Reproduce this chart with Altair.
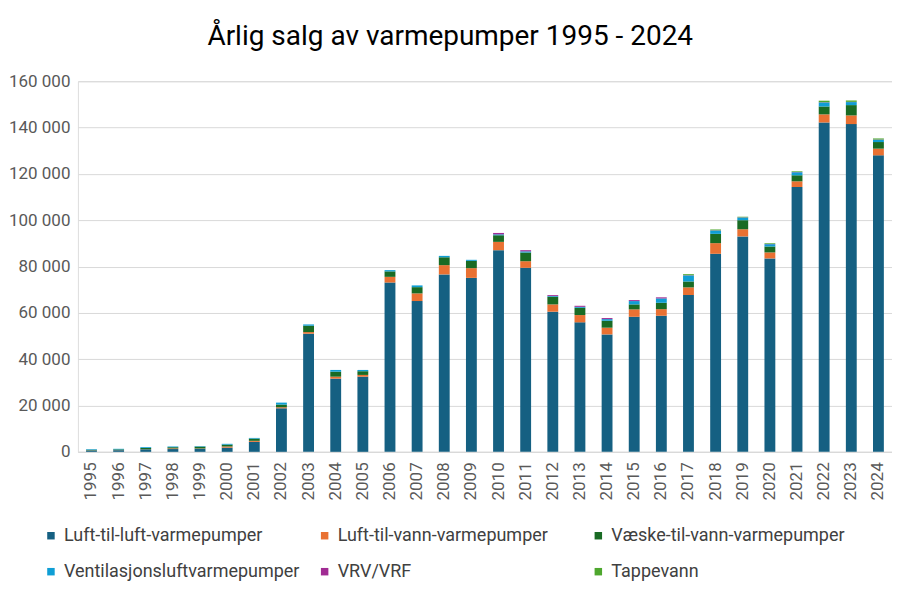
import altair as alt
import pandas as pd

years = [str(y) for y in range(1995, 2025)]

series_names = [
    "Luft-til-luft-varmepumper",
    "Luft-til-vann-varmepumper",
    "Væske-til-vann-varmepumper",
    "Ventilasjonsluftvarmepumper",
    "VRV/VRF",
    "Tappevann",
]
series_colors = ["#156082", "#E97132", "#196B24", "#0F9ED5", "#A02B93", "#4EA72E"]

luft_luft = [600, 700, 1100, 1200, 1300, 1800, 4300, 18800, 51000, 31600,
             32450, 73100, 65100, 76600, 75100, 87050, 79450, 60500, 55900, 50700,
             58300, 58750, 67700, 85500, 93000, 83500, 114350, 142200, 141500, 128000]
luft_vann = [50, 50, 50, 300, 150, 500, 450, 450, 700, 850,
             750, 2450, 3300, 4000, 4200, 3600, 2850, 3150, 3150, 2900,
             3200, 2850, 3300, 4600, 3100, 2600, 2450, 3500, 3750, 2900]
vaeske_vann = [250, 300, 500, 500, 800, 800, 950, 1150, 2750, 2150,
               1600, 2350, 2700, 3400, 3150, 2850, 3750, 3300, 3150, 3000,
               2150, 2750, 2550, 4000, 3900, 2550, 2600, 3400, 4450, 2850]
ventilasjon = [250, 250, 350, 300, 200, 350, 300, 850, 550, 750,
               550, 550, 750, 600, 450, 400, 500, 300, 400, 700,
               1430, 1880, 2600, 1450, 1150, 1000, 1300, 1750, 1300, 1000]
vrv_vrf = [0, 0, 0, 0, 0, 0, 0, 0, 0, 0,
           0, 0, 0, 0, 0, 600, 500, 400, 450, 450,
           420, 470, 100, 100, 100, 100, 100, 100, 100, 100]
tappevann = [0, 0, 0, 0, 0, 0, 0, 0, 0, 0,
             0, 0, 0, 0, 0, 0, 0, 0, 0, 0,
             0, 0, 450, 350, 250, 300, 300, 650, 600, 450]

y_ticks = [0, 20000, 40000, 60000, 80000, 100000, 120000, 140000, 160000]

all_series = [luft_luft, luft_vann, vaeske_vann, ventilasjon, vrv_vrf, tappevann]
rows = []
for si, (name, vals) in enumerate(zip(series_names, all_series)):
    for yr, v in zip(years, vals):
        rows.append({"År": yr, "Type": name, "Antall": v, "idx": si})
df = pd.DataFrame(rows)

FONT = "Roboto"

chart = (
    alt.Chart(df)
    .mark_bar()
    .encode(
        x=alt.X(
            "År:N",
            sort=years,
            scale=alt.Scale(paddingInner=0.6, paddingOuter=0.3),
            axis=alt.Axis(
                title=None,
                labelAngle=-90,
                labelFontSize=17,
                labelColor="#595959",
                labelFont=FONT,
                labelPadding=10,
                ticks=False,
                domainColor="#d9d9d9",
                domainWidth=1,
                grid=False,
            ),
        ),
        y=alt.Y(
            "Antall:Q",
            stack="zero",
            scale=alt.Scale(domain=[0, 160000], nice=False),
            axis=alt.Axis(
                title=None,
                values=y_ticks,
                labelExpr="replace(format(datum.value, ','), regexp(',', 'g'), ' ')",
                labelFontSize=17,
                labelColor="#595959",
                labelFont=FONT,
                labelPadding=8,
                ticks=False,
                domain=False,
                gridColor="#d9d9d9",
                gridWidth=1,
            ),
        ),
        color=alt.Color(
            "Type:N",
            scale=alt.Scale(domain=series_names, range=series_colors),
            legend=alt.Legend(
                title=None,
                orient="none",
                legendX=-36,
                legendY=446,
                direction="horizontal",
                columns=3,
                gridAlign="all",
                columnPadding=16,
                rowPadding=18,
                symbolType="square",
                symbolSize=56,
                symbolStrokeWidth=0,
                labelFontSize=18,
                labelFont=FONT,
                labelColor="#404040",
                labelLimit=400,
                labelOffset=4,
            ),
        ),
        order=alt.Order("idx:Q", sort="ascending"),
    )
    .properties(
        width=815,
        height=371,
        padding={"top": 15, "left": 0, "right": 0, "bottom": 3},
        title=alt.TitleParams(
            text="Årlig salg av varmepumper 1995 - 2024",
            fontSize=28,
            font=FONT,
            fontWeight="normal",
            color="#000000",
            anchor="middle",
            frame="bounds",
            offset=21,
        ),
    )
    .configure_view(strokeWidth=0)
    .configure(background="white")
)

chart.save("out.html", embed_options={"renderer": "svg", "actions": False})
